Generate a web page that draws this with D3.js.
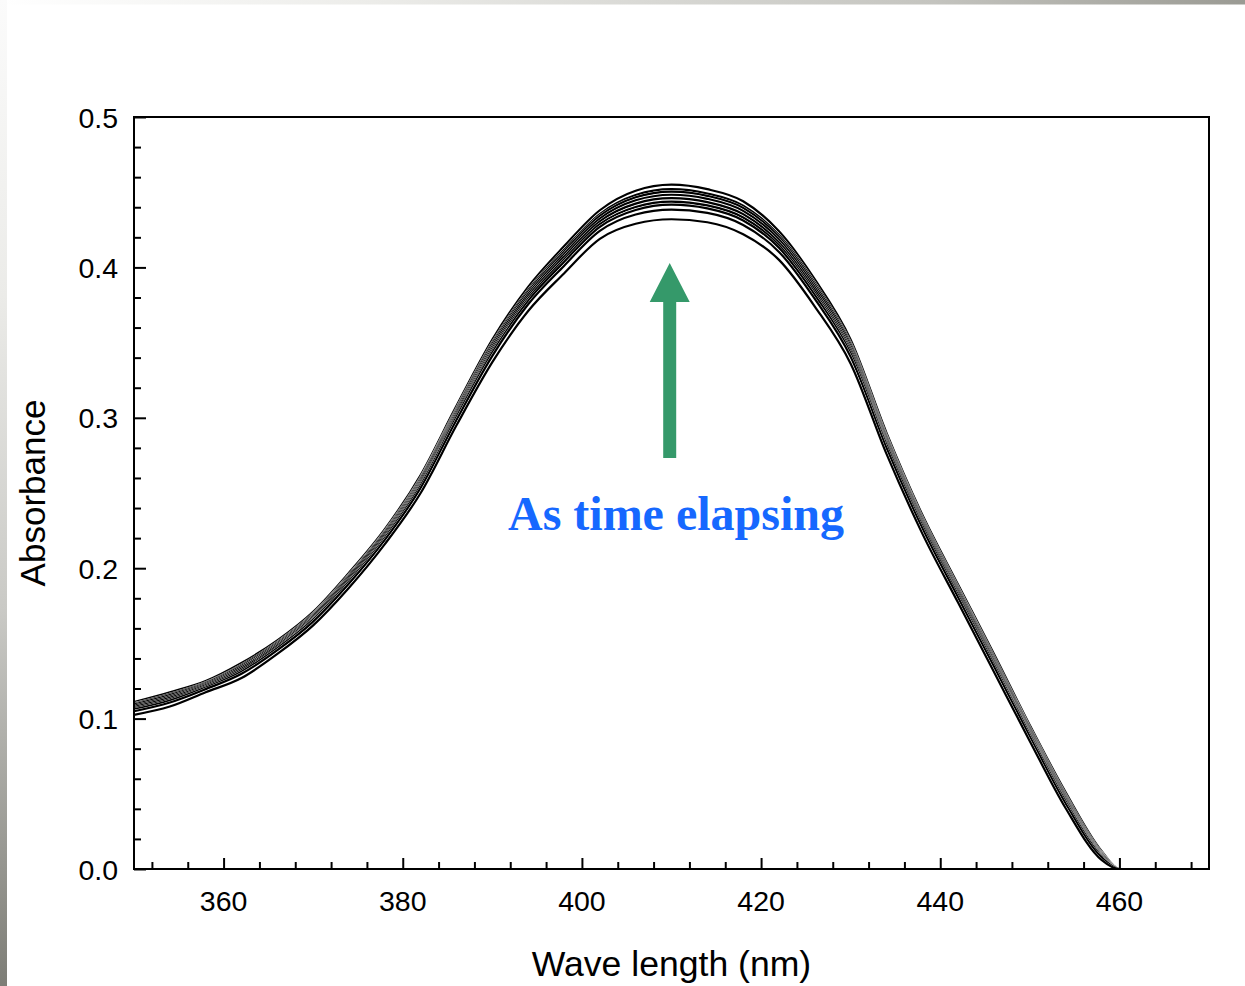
<!DOCTYPE html>
<html>
<head>
<meta charset="utf-8">
<script src="https://cdn.jsdelivr.net/npm/d3@7"></script>
<style>
  html, body { margin: 0; padding: 0; background: #ffffff; }
  svg { display: block; }
</style>
</head>
<body>
<svg id="chart" width="1245" height="986"></svg>
<script>
// ---------------- DATA ----------------
const wavelengths = [350, 354, 358, 362, 366, 370, 374, 378, 382, 386, 390, 394, 398, 402, 406, 410,
                     414, 418, 422, 426, 430, 434, 438, 442, 446, 450, 454, 458, 460, 464, 470];

const scan1 = [.1110, .1175, .1250, .1370, .1520, .1710, .1970, .2260, .2620, .3080, .3520, .3870, .4140, .4380, .4510, .4550,
               .4520, .4440, .4240, .3920, .3520, .2900, .2355, .1890, .1430, .0956, .0510, .0120, 0, 0, 0];
const scan2 = [.1099, .1163, .1240, .1357, .1508, .1698, .1957, .2247, .2604, .3063, .3500, .3849, .4117, .4355, .4481, .4520,
               .4491, .4411, .4215, .3897, .3499, .2882, .2339, .1874, .1414, .0942, .0496, .0112, 0, 0, 0];
const scan3 = [.1093, .1156, .1235, .1350, .1502, .1692, .1950, .2240, .2596, .3054, .3490, .3838, .4104, .4342, .4466, .4504,
               .4476, .4396, .4202, .3884, .3488, .2872, .2330, .1866, .1406, .0935, .0489, .0108, 0, 0, 0];
const scan4 = [.1085, .1147, .1228, .1341, .1494, .1684, .1941, .2231, .2585, .3042, .3476, .3824, .4088, .4325, .4446, .4483,
               .4456, .4376, .4185, .3868, .3474, .2859, .2319, .1855, .1395, .0925, .0479, .0103, 0, 0, 0];
const scan5 = [.1077, .1138, .1221, .1331, .1485, .1675, .1931, .2221, .2573, .3029, .3461, .3808, .4070, .4306, .4424, .4460,
               .4434, .4354, .4166, .3850, .3458, .2845, .2306, .1843, .1383, .0915, .0469, .0097, 0, 0, 0];
const scan6 = [.1068, .1128, .1213, .1321, .1476, .1666, .1921, .2211, .2561, .3016, .3446, .3792, .4052, .4287, .4402, .4437,
               .4412, .4332, .4147, .3832, .3442, .2831, .2294, .1831, .1371, .0904, .0458, .0091, 0, 0, 0];
const scan7 = [.1061, .1120, .1206, .1312, .1468, .1658, .1912, .2202, .2550, .3005, .3433, .3777, .4036, .4270, .4382, .4417,
               .4392, .4312, .4130, .3816, .3427, .2819, .2282, .1820, .1360, .0895, .0449, .0085, 0, 0, 0];
const scan8 = [.1049, .1107, .1196, .1298, .1455, .1645, .1898, .2188, .2534, .2986, .3412, .3755, .4010, .4243, .4352, .4384,
               .4362, .4282, .4103, .3790, .3405, .2799, .2265, .1804, .1344, .0880, .0434, .0077, 0, 0, 0];
const scan9 = [.1025, .1080, .1175, .1270, .1430, .1620, .1870, .2160, .2500, .2950, .3370, .3710, .3960, .4190, .4290, .4320,
               .4300, .4220, .4050, .3740, .3360, .2760, .2230, .1770, .1310, .0850, .0404, .0060, 0, 0, 0];

const scans = [scan1, scan2, scan3, scan4, scan5, scan6, scan7, scan8, scan9];

const xMajorTicks = [360, 380, 400, 420, 440, 460];
const xTickLabels = ["360", "380", "400", "420", "440", "460"];
const yMajorTicks = [0.0, 0.1, 0.2, 0.3, 0.4, 0.5];
const yTickLabels = ["0.0", "0.1", "0.2", "0.3", "0.4", "0.5"];

const xTitle = "Wave length (nm)";
const yTitle = "Absorbance";
const noteText = "As time elapsing";
// annotation anchor in data units (wavelength, absorbance)
const noteArrow = { x: 409.8, from: 0.2733, to: 0.403 };
const noteLabel = { x: 410.5, y: 0.2254 };

// ---------------- LAYOUT ----------------
const svg = d3.select("#chart");
const W = 1245, H = 986;
const plot = { left: 134, right: 1209, top: 117, bottom: 869 };

const x = d3.scaleLinear().domain([350, 470]).range([plot.left, plot.right]);
const y = d3.scaleLinear().domain([0, 0.5]).range([plot.bottom, plot.top]);

// ---------------- BACKGROUND DECORATION ----------------
const defs = svg.append("defs");
const gTop = defs.append("linearGradient").attr("id", "gTop").attr("x1", "0").attr("x2", "1").attr("y1", "0").attr("y2", "0");
gTop.append("stop").attr("offset", "0").attr("stop-color", "#ffffff");
gTop.append("stop").attr("offset", "0.3").attr("stop-color", "#ecece9");
gTop.append("stop").attr("offset", "0.75").attr("stop-color", "#c4c4bf");
gTop.append("stop").attr("offset", "1").attr("stop-color", "#9a9a93");
const gLeft = defs.append("linearGradient").attr("id", "gLeft").attr("x1", "0").attr("x2", "0").attr("y1", "0").attr("y2", "1");
gLeft.append("stop").attr("offset", "0").attr("stop-color", "#fbfbfb");
gLeft.append("stop").attr("offset", "0.3").attr("stop-color", "#ebebe8");
gLeft.append("stop").attr("offset", "0.62").attr("stop-color", "#c9c9c5");
gLeft.append("stop").attr("offset", "1").attr("stop-color", "#7d7d76");

svg.append("rect").attr("x", 0).attr("y", 0).attr("width", W).attr("height", 4.5).attr("fill", "url(#gTop)");
svg.append("rect").attr("x", 0).attr("y", 0).attr("width", 7).attr("height", H).attr("fill", "url(#gLeft)");

// ---------------- LINES ----------------
const line = d3.line()
  .x((d, i) => x(wavelengths[i]))
  .y(d => y(d))
  .curve(d3.curveMonotoneX);

const gLines = svg.append("g");
scans.forEach(s => {
  gLines.append("path").attr("d", line(s)).attr("fill", "none")
    .attr("stroke", "#ffffff").attr("stroke-width", 2.8).attr("stroke-linejoin", "round");
  gLines.append("path").attr("d", line(s)).attr("fill", "none")
    .attr("stroke", "#000000").attr("stroke-width", 2.2).attr("stroke-linejoin", "round");
});

// ---------------- AXES ----------------
const xMinor = d3.range(352, 470, 4).filter(v => !xMajorTicks.includes(v));
const yMinor = d3.range(1, 25).map(i => i * 0.02).filter(v => Math.abs(v * 10 - Math.round(v * 10)) > 1e-6);

const xAxisMajor = d3.axisBottom(x).tickValues(xMajorTicks).tickSize(-11).tickFormat("");
const xAxisMinor = d3.axisBottom(x).tickValues(xMinor).tickSize(-7).tickFormat("");
const yAxisMajor = d3.axisLeft(y).tickValues(yMajorTicks).tickSize(-12).tickFormat("");
const yAxisMinor = d3.axisLeft(y).tickValues(yMinor).tickSize(-7).tickFormat("");

function styleAxis(g) {
  g.select(".domain").remove();
  g.selectAll(".tick line").attr("stroke", "#000").attr("stroke-width", 2);
}
svg.append("g").attr("transform", `translate(0,${plot.bottom})`).call(xAxisMajor).call(styleAxis);
svg.append("g").attr("transform", `translate(0,${plot.bottom})`).call(xAxisMinor).call(styleAxis);
svg.append("g").attr("transform", `translate(${plot.left},0)`).call(yAxisMajor).call(styleAxis);
svg.append("g").attr("transform", `translate(${plot.left},0)`).call(yAxisMinor).call(styleAxis);

// frame
svg.append("rect")
  .attr("x", x(350)).attr("y", y(0.5))
  .attr("width", x(470) - x(350)).attr("height", y(0) - y(0.5))
  .attr("fill", "none").attr("stroke", "#000").attr("stroke-width", 2);

// tick labels
const labelFont = "'Liberation Sans', Arial, Helvetica, sans-serif";
svg.append("g").selectAll("text").data(xMajorTicks).join("text")
  .attr("x", d => x(d)).attr("y", plot.bottom + 42)
  .attr("text-anchor", "middle")
  .attr("font-family", labelFont).attr("font-size", 28.5).attr("fill", "#000")
  .text((d, i) => xTickLabels[i]);

svg.append("g").selectAll("text").data(yMajorTicks).join("text")
  .attr("x", plot.left - 16).attr("y", d => y(d) + 10.5)
  .attr("text-anchor", "end")
  .attr("font-family", labelFont).attr("font-size", 28.5).attr("fill", "#000")
  .text((d, i) => yTickLabels[i]);

// titles
svg.append("text")
  .attr("x", (plot.left + plot.right) / 2).attr("y", 976)
  .attr("text-anchor", "middle")
  .attr("font-family", labelFont).attr("font-size", 35.6).attr("fill", "#000")
  .text(xTitle);

svg.append("text")
  .attr("transform", `translate(45,${(plot.top + plot.bottom) / 2}) rotate(-90)`)
  .attr("text-anchor", "middle")
  .attr("font-family", labelFont).attr("font-size", 35).attr("fill", "#000")
  .text(yTitle);

// ---------------- ANNOTATION ----------------
const ax = x(noteArrow.x);
const yTail = y(noteArrow.from), yTip = y(noteArrow.to);
const headH = 39, headW = 40, shaftW = 13;
const arrowPath = d3.path();
arrowPath.moveTo(ax - shaftW / 2, yTail);
arrowPath.lineTo(ax - shaftW / 2, yTip + headH);
arrowPath.lineTo(ax - headW / 2, yTip + headH);
arrowPath.lineTo(ax, yTip);
arrowPath.lineTo(ax + headW / 2, yTip + headH);
arrowPath.lineTo(ax + shaftW / 2, yTip + headH);
arrowPath.lineTo(ax + shaftW / 2, yTail);
arrowPath.closePath();
svg.append("path").attr("d", arrowPath.toString()).attr("fill", "#35996a");

svg.append("text")
  .attr("x", x(noteLabel.x)).attr("y", y(noteLabel.y))
  .attr("text-anchor", "middle")
  .attr("font-family", "'Liberation Serif', 'Times New Roman', serif")
  .attr("font-weight", "bold").attr("font-size", 48).attr("fill", "#1668ff")
  .text(noteText);
</script>
</body>
</html>
